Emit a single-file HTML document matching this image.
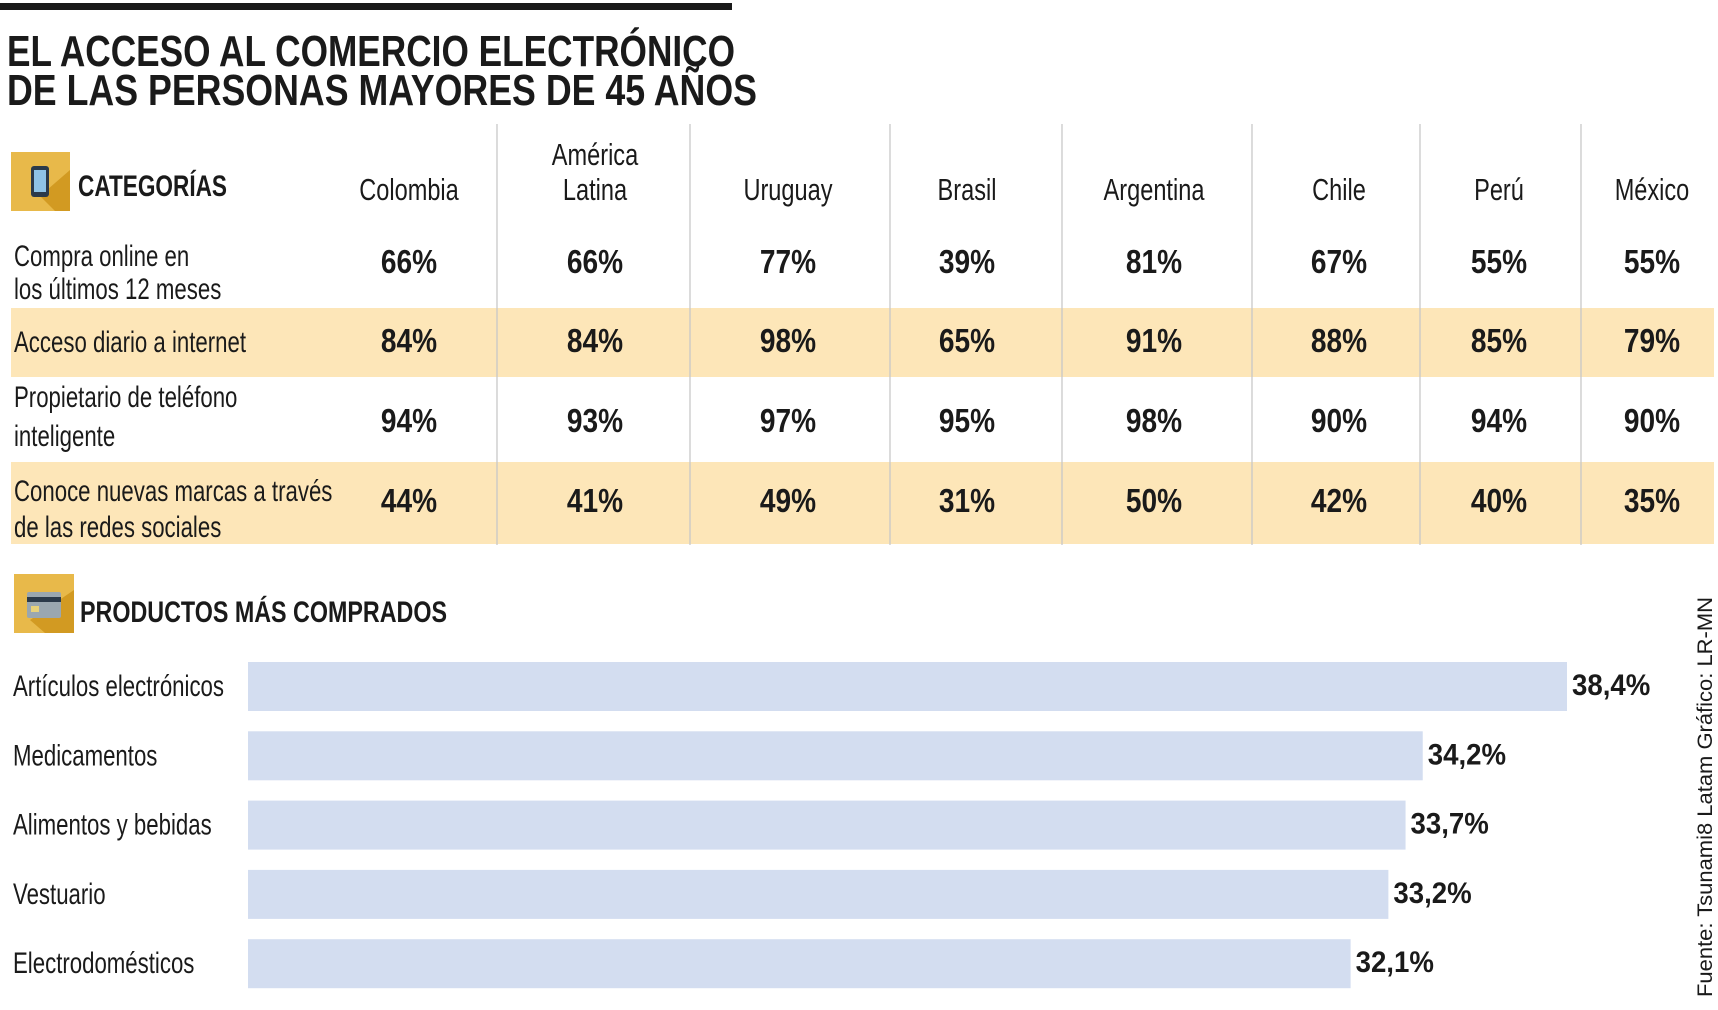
<!DOCTYPE html>
<html><head><meta charset="utf-8">
<style>
html,body{margin:0;padding:0;background:#fff;}
svg{display:block;}
text{font-family:"Liberation Sans Narrow","Liberation Sans",sans-serif;fill:#1a1a1a;}
.b{font-weight:bold;}
</style></head>
<body>
<svg id="c" width="1718" height="1010" viewBox="0 0 1718 1010" xmlns="http://www.w3.org/2000/svg">
<rect x="0" y="3" width="732" height="7" fill="#1a1a1a"/>
<text class="b" x="7" y="66" font-size="44" textLength="728" lengthAdjust="spacingAndGlyphs">EL ACCESO AL COMERCIO ELECTRÓNICO</text>
<text class="b" x="7" y="105" font-size="44" textLength="750" lengthAdjust="spacingAndGlyphs">DE LAS PERSONAS MAYORES DE 45 AÑOS</text>
<g id="table"></g>
<g>
<rect x="11" y="152" width="59" height="59" fill="#e8b94a"/>
<polygon points="40,196 70,170 70,211 55,211" fill="#d29a22"/>
<rect x="31" y="166" width="18" height="31" rx="3" fill="#2b3a4a"/>
<rect x="34" y="170" width="12" height="22" fill="#8fc3e6"/>
</g>
<text class="b" x="78" y="196" font-size="30" textLength="149" lengthAdjust="spacingAndGlyphs">CATEGORÍAS</text>
<g>
<rect x="14" y="574" width="60" height="59" fill="#e8b94a"/>
<polygon points="30,620 74,590 74,633 45,633" fill="#d29a22"/>
<rect x="27" y="592" width="34" height="26" rx="2" fill="#9aa7b0"/>
<rect x="27" y="597" width="34" height="5" fill="#2b3a4a"/>
<rect x="31" y="606" width="8" height="6" fill="#e8d27a"/>
</g>
<text class="b" x="80" y="622" font-size="30" textLength="367" lengthAdjust="spacingAndGlyphs">PRODUCTOS MÁS COMPRADOS</text>
<g id="bars"></g>
<text x="0" y="0" font-size="21" transform="translate(1712,997) rotate(-90)" textLength="400" lengthAdjust="spacingAndGlyphs" style="font-family:'Liberation Sans',sans-serif">Fuente: Tsunami8 Latam  Gráfico: LR-MN</text>
</svg>
<script>
const countries = ["Colombia","América Latina","Uruguay","Brasil","Argentina","Chile","Perú","México"];
const rowLabels = [["Compra online en","los últimos 12 meses"],["Acceso diario a internet"],["Propietario de teléfono","inteligente"],["Conoce nuevas marcas a través","de las redes sociales"]];
const compraOnline = [66,66,77,39,81,67,55,55];
const accesoInternet = [84,84,98,65,91,88,85,79];
const propietarioTelefono = [94,93,97,95,98,90,94,90];
const conoceMarcas = [44,41,49,31,50,42,40,35];
const productCategories = ["Artículos electrónicos","Medicamentos","Alimentos y bebidas","Vestuario","Electrodomésticos"];
const productValues = [38.4,34.2,33.7,33.2,32.1];
const productLabels = ["38,4%","34,2%","33,7%","33,2%","32,1%"];

const NS="http://www.w3.org/2000/svg";
function mk(tag,attrs,parent,txt){const e=document.createElementNS(NS,tag);for(const k in attrs)e.setAttribute(k,attrs[k]);if(txt!==undefined)e.textContent=txt;parent.appendChild(e);return e;}
function squeeze(t,f){const w=t.getComputedTextLength();t.setAttribute('textLength',(w*f).toFixed(1));t.setAttribute('lengthAdjust','spacingAndGlyphs');}

const tbl=document.getElementById('table');
const rowsData=[compraOnline,accesoInternet,propietarioTelefono,conoceMarcas];
const rowTop=[215,308,377,462], rowBot=[308,377,462,544];
const rowValY=[273,352,432,512];
const rowLabelY=[[266,299],[352],[407,446],[501,537]];
[1,3].forEach(i=>{
  const r=mk('rect',{x:11,y:rowTop[i],width:1703,height:rowBot[i]-rowTop[i],fill:'#fde6b8'},tbl);
  
  
});
const sepX=[497,690,890,1062,1252,1420,1581];
sepX.forEach((x,i)=>{
  const l=mk('line',{x1:x,x2:x,y1:124,y2:545,stroke:'#c8c8c8','stroke-width':1.3},tbl);
  
  
});
const colCx=[409,595,788,967,1154,1339,1499,1652];
countries.forEach((c,i)=>{
  const parts=c==="América Latina"?["América","Latina"]:[c];
  parts.forEach((p,j)=>{
    const y=parts.length===2?(j===0?165:200):200;
    const t=mk('text',{x:colCx[i],y:y,'font-size':31,'text-anchor':'middle'},tbl,p);
    
    
    squeeze(t,0.76);
  });
});
rowLabels.forEach((lines,r)=>{
  lines.forEach((ln,j)=>{
    const t=mk('text',{x:14,y:rowLabelY[r][j],'font-size':30},tbl,ln);
    
    
    squeeze(t,0.74);
  });
  rowsData[r].forEach((v,i)=>{
    const t=mk('text',{x:colCx[i],y:rowValY[r],'font-size':33,'text-anchor':'middle',class:'b'},tbl,v+'%');
    
    
    squeeze(t,0.85);
  });
});

const bars=document.getElementById('bars');
const x0=248, pxPerUnit=(1567-248)/38.4;
function xs(v){return x0+v*pxPerUnit;}
const barTop=662, barStep=69.3, barH=49;
productCategories.forEach((c,i)=>{
  const y=barTop+i*barStep;
  const r=mk('rect',{x:x0,y:y,width:xs(productValues[i])-x0,height:barH,fill:'#d3ddf0'},bars);
  
  
  const t=mk('text',{x:13,y:y+34,'font-size':30},bars,c);
  
  
  squeeze(t,0.74);
  const v=mk('text',{x:xs(productValues[i])+5,y:y+33,'font-size':30,class:'b'},bars,productLabels[i]);
  
  
  squeeze(v,0.92);
});
</script>
</body></html>
